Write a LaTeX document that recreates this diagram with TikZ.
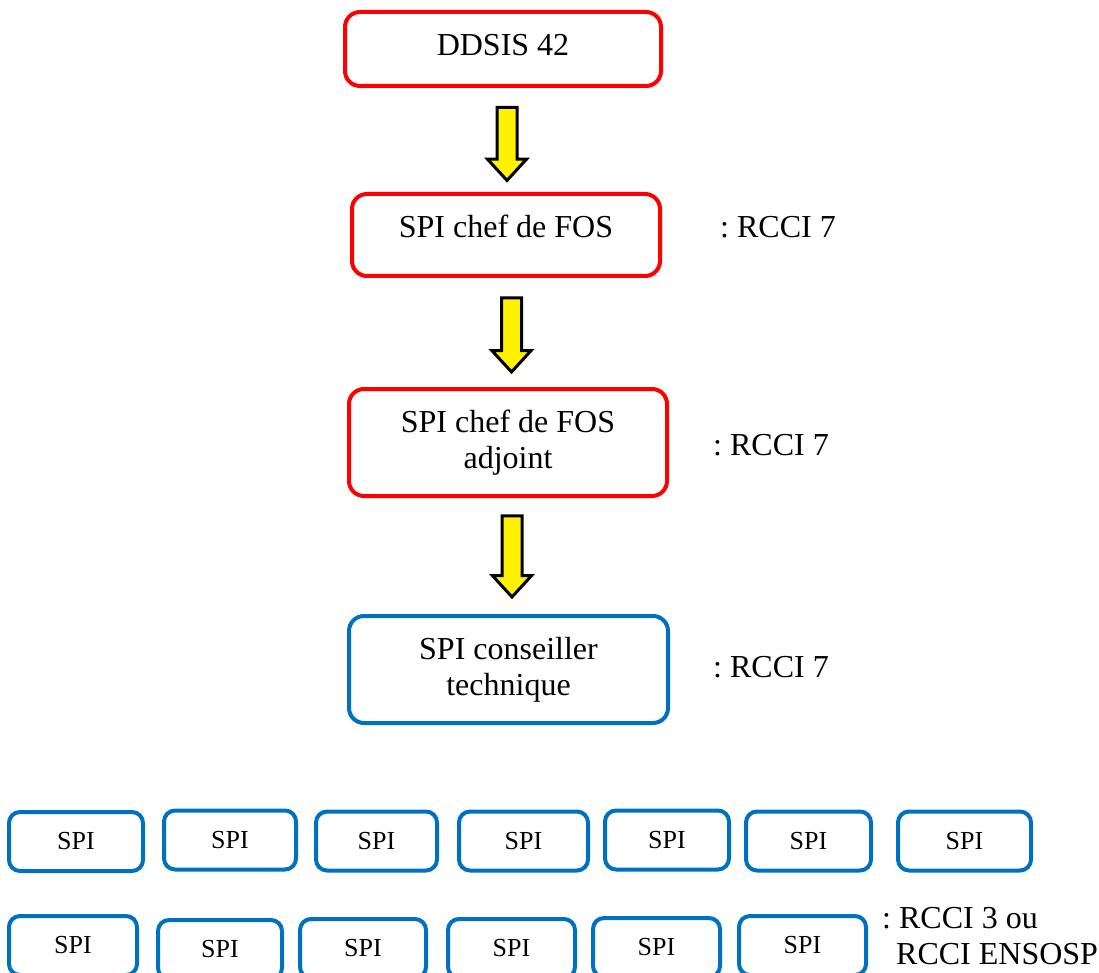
\documentclass[tikz,border=0pt]{standalone}
\usepackage{fontspec}
\setmainfont{Liberation Serif}
\usepackage{xcolor}
\usetikzlibrary{shapes.arrows,positioning}
\definecolor{boxred}{RGB}{255,0,0}
\definecolor{boxblue}{RGB}{0,112,192}
\newcommand{\lowpad}[1]{\rule[-#1]{0pt}{#1}}
\frenchspacing

\begin{document}
\begin{tikzpicture}[x=1pt,y=-1pt,
                    redbox/.style={draw=boxred, line width=4pt, rounded corners=15pt, inner sep=0pt, align=center, font=\fontsize{32}{36}\selectfont},
                    bluebox/.style={redbox, draw=boxblue},
                    spibox/.style={draw=boxblue, line width=4pt, rounded corners=11pt, inner sep=0pt, minimum height=59pt, font=\fontsize{26}{30}\selectfont},
                    rank/.style={anchor=west, inner sep=0pt, align=left, font=\fontsize{32}{36}\selectfont},
                    yarrow/.style={single arrow, draw=black, line width=3pt, fill=yellow, rotate=-90, inner sep=0pt, inner ysep=8.5pt, single arrow head extend=9.5pt, single arrow tip angle=85},
                   ]

\useasboundingbox (0,0) rectangle (1099,973);

% chain of command
\node[redbox, minimum width=316pt, minimum height=74pt] (ddsis) at (503,49) {DDSIS 42\lowpad{9pt}};
\node[redbox, minimum width=308pt, minimum height=82pt] (chef) at (506,235) {SPI chef de FOS\lowpad{17pt}};
\node[redbox, minimum width=318pt, minimum height=107pt] (adjoint) at (508,442.5) {SPI chef de FOS\\adjoint};
\node[bluebox, minimum width=319pt, minimum height=107pt] (conseiller) at (508.5,669.5) {SPI conseiller\\technique};

\node[yarrow, minimum height=73pt] (arr1) at (507,138.5) {};
\node[yarrow, minimum height=74pt] (arr2) at (511.5,329.5) {};
\node[yarrow, minimum height=81pt] (arr3) at (512,551) {};

\node[rank] (rchef) at (720,227) {: RCCI 7};
\node[rank] (radjoint) at (713,445) {: RCCI 7};
\node[rank] (rconseiller) at (713,667) {: RCCI 7};

% first row
\node[spibox, minimum width=134pt] (s1) at (76,841.5) {SPI};
\node[spibox, minimum width=132pt] (s2) at (230,840) {SPI};
\node[spibox, minimum width=121pt] (s3) at (376.5,841) {SPI};
\node[spibox, minimum width=129pt] (s4) at (523.5,841) {SPI};
\node[spibox, minimum width=124pt] (s5) at (667,840) {SPI};
\node[spibox, minimum width=125pt] (s6) at (808.5,841) {SPI};
\node[spibox, minimum width=133pt] (s7) at (964.5,841) {SPI};

% second row
\node[spibox, minimum width=128pt] (t1) at (73,945.5) {SPI};
\node[spibox, minimum width=124pt] (t2) at (220,949.5) {SPI};
\node[spibox, minimum width=126pt] (t3) at (363,948.5) {SPI};
\node[spibox, minimum width=127pt] (t4) at (511.5,948.5) {SPI};
\node[spibox, minimum width=127pt] (t5) at (656.5,947.5) {SPI};
\node[spibox, minimum width=127pt] (t6) at (802.5,945.5) {SPI};

\node[rank] (rspi) at (882,936) {: RCCI 3 ou\\\hspace{14pt}RCCI ENSOSP};

\end{tikzpicture}
\end{document}
